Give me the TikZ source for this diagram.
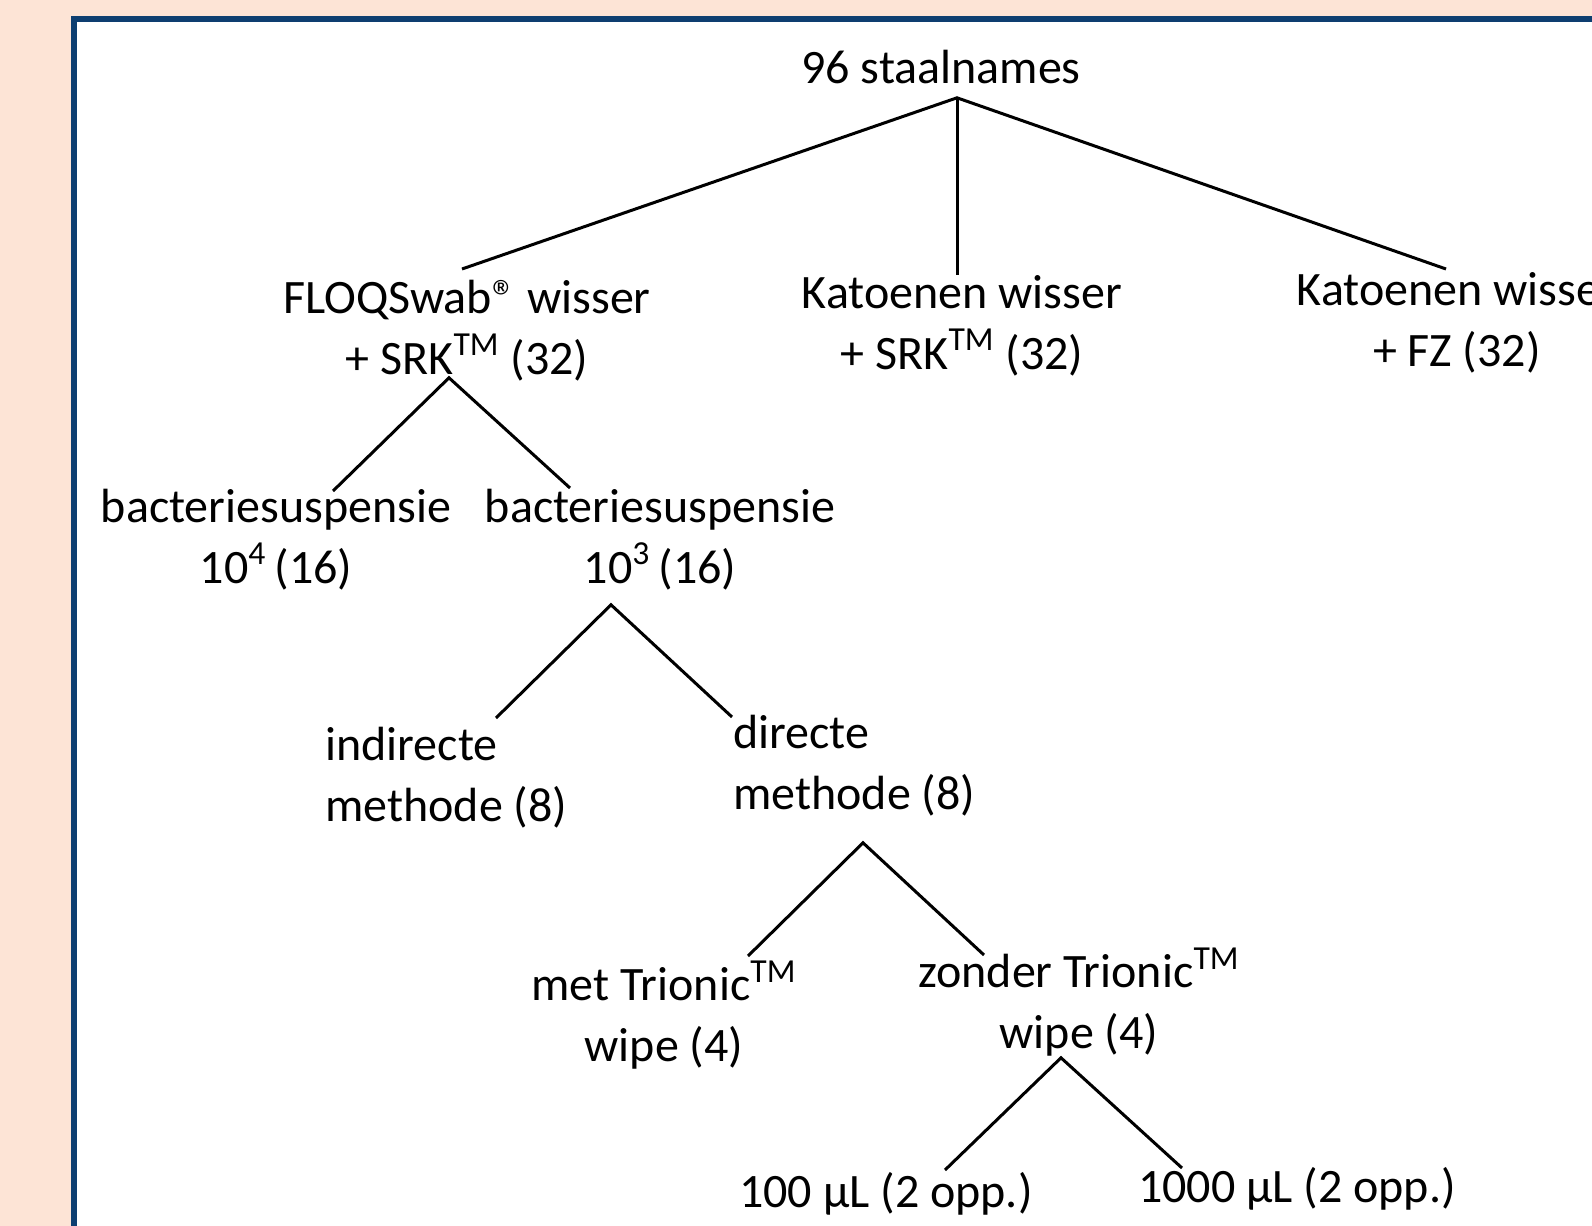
\documentclass[tikz,border=0pt]{standalone}
\usepackage{fontspec}
\setmainfont{Carlito}
\definecolor{peach}{RGB}{253,228,214}
\definecolor{frameblue}{RGB}{14,62,112}
\newcommand{\linestrut}{\rule[-8.925pt]{0pt}{29.75pt}}
\newcommand{\twolines}[2]{\linestrut#1\\#2\linestrut}

\begin{document}
\begin{tikzpicture}[
    x=0.5pt, y=-0.5pt,
    lbl/.style={font=\fontsize{24}{30.5}\selectfont, align=center, inner sep=0pt, anchor=north},
    leftlbl/.style={lbl, align=left, anchor=north west},
    branch/.style={line width=1.5pt, black}
]
\useasboundingbox (0,0) rectangle (1592,1226);
\clip (0,0) rectangle (1592,1226);
\fill[peach] (0,0) rectangle (1592,1226);
\draw[frameblue, line width=3pt, fill=white] (74,19) rectangle (1640,1280);

\node[lbl] (root) at (941,41) {\linestrut 96 staalnames\linestrut};
\node[lbl] (floq) at (467,271) {\twolines{FLOQSwab® wisser}{+ SRK\textsuperscript{TM} (32)}};
\node[lbl] (katsrk) at (962,266) {\twolines{Katoenen wisser}{+ SRK\textsuperscript{TM} (32)}};
\node[lbl] (katfz) at (1457,263) {\twolines{Katoenen wisser}{+ FZ (32)}};
\node[lbl] (susp4) at (276,480) {\twolines{bacteriesuspensie}{10\textsuperscript{4}\,(16)}};
\node[lbl] (susp3) at (660,480) {\twolines{bacteriesuspensie}{10\textsuperscript{3}\,(16)}};
\node[leftlbl] (indirect) at (325,718) {\twolines{indirecte}{methode (8)}};
\node[leftlbl] (direct) at (733,706) {\twolines{directe}{methode (8)}};
\node[lbl] (met) at (664,958) {\twolines{met Trionic\textsuperscript{TM}}{wipe (4)}};
\node[lbl] (zonder) at (1079,945) {\twolines{zonder Trionic\textsuperscript{TM}}{wipe (4)}};
\node[lbl] (ul100) at (886,1165) {\linestrut 100 µL (2 opp.)\linestrut};
\node[lbl] (ul1000) at (1297,1160) {\linestrut 1000 µL (2 opp.)\linestrut};

\draw[branch] ([shift={(-5,-2)}]floq.north) -- ([shift={(16,-3.5)}]root.south) -- ([shift={(-11,6)}]katfz.north);
\draw[branch] ([shift={(16,-3.5)}]root.south) -- ([shift={(-5,9)}]katsrk.north);
\draw[branch] ([shift={(57,11)}]susp4.north) -- ([shift={(-18,-14.5)}]floq.south) -- ([shift={(-90,8)}]susp3.north);
\draw[branch] ([shift={(171,0)}]indirect.north west) -- ([shift={(-49,3.5)}]susp3.south) -- ([shift={(-1,11)}]direct.north west);
\draw[branch] ([shift={(84,-2)}]met.north) -- ([shift={(130,15.5)}]direct.south west) -- ([shift={(-95,10)}]zonder.north);
\draw[branch] ([shift={(59,5)}]ul100.north) -- ([shift={(-18,-8.5)}]zonder.south) -- ([shift={(-115,8)}]ul1000.north);
\end{tikzpicture}
\end{document}
